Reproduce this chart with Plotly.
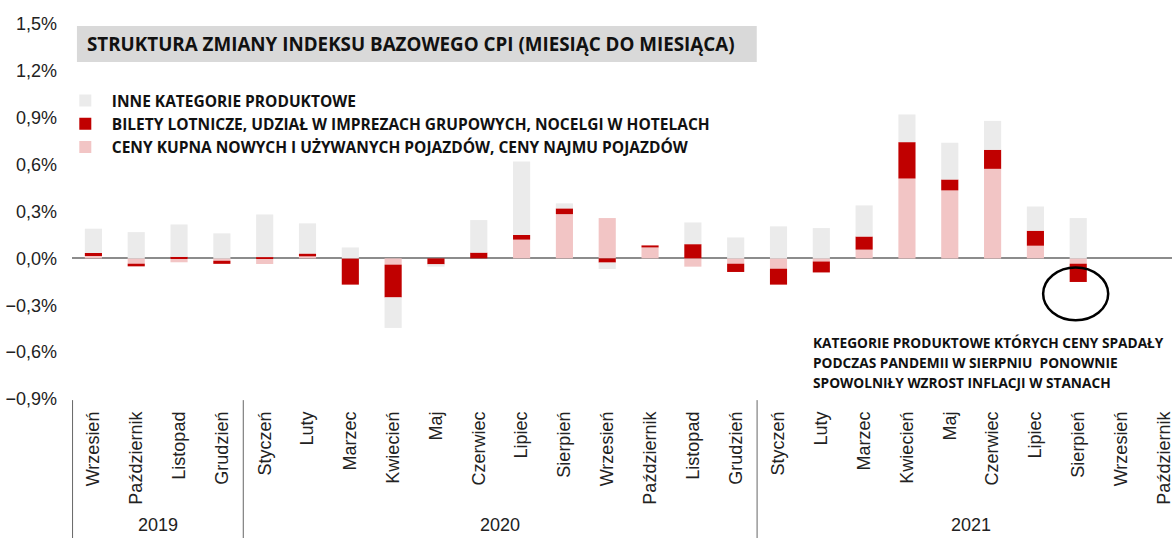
import plotly.graph_objects as go

years = ["2019", "2020", "2021"]
year_centers = [1.5, 9.5, 20.5]
year_bounds = [3.5, 15.5]
months = ["Wrzesień", "Październik", "Listopad", "Grudzień",
          "Styczeń", "Luty", "Marzec", "Kwiecień", "Maj", "Czerwiec", "Lipiec", "Sierpień",
          "Wrzesień", "Październik", "Listopad", "Grudzień",
          "Styczeń", "Luty", "Marzec", "Kwiecień", "Maj", "Czerwiec", "Lipiec", "Sierpień",
          "Wrzesień", "Październik"]
pos = list(range(len(months)))

# contributions in percentage points
vehicles = [0.015, -0.034, -0.025, -0.015, -0.036, 0.013, 0.0, -0.04, 0.0, 0.0, 0.12, 0.283,
            0.258, 0.07, -0.053, -0.034, -0.066, -0.02, 0.056, 0.511, 0.435, 0.573, 0.081, -0.034,
            None, None]
travel = [0.02, -0.017, 0.01, -0.02, 0.008, 0.018, -0.168, -0.21, -0.038, 0.037, 0.03, 0.037,
          -0.027, 0.013, 0.091, -0.053, -0.102, -0.07, 0.084, 0.233, 0.07, 0.122, 0.096, -0.117,
          None, None]
other = [0.155, 0.168, 0.207, 0.16, 0.273, 0.193, 0.07, -0.195, -0.015, 0.208, 0.47, 0.032,
         -0.041, 0.0, 0.139, 0.134, 0.205, 0.194, 0.199, 0.177, 0.235, 0.185, 0.155, 0.258,
         None, None]

names = ["CENY KUPNA NOWYCH I UŻYWANYCH POJAZDÓW, CENY NAJMU POJAZDÓW",
         "BILETY LOTNICZE, UDZIAŁ W IMPREZACH GRUPOWYCH, NOCELGI W HOTELACH",
         "INNE KATEGORIE PRODUKTOWE"]
colors = ["#f2c5c5", "#c00000", "#ebebeb"]

title_text = "STRUKTURA ZMIANY INDEKSU BAZOWEGO CPI (MIESIĄC DO MIESIĄCA)"
note_lines = ["KATEGORIE PRODUKTOWE KTÓRYCH CENY SPADAŁY",
              "PODCZAS PANDEMII W SIERPNIU  PONOWNIE",
              "SPOWOLNIŁY WZROST INFLACJI W STANACH"]

fig = go.Figure()
for vals, nm, col in zip([vehicles, travel, other], names, colors):
    fig.add_trace(go.Bar(x=pos, y=vals, name=nm, marker=dict(color=col, line=dict(width=0))))

bold = dict(family="Open Sans", size=15.5, color="#111", weight="bold")

fig.update_layout(
    width=1174, height=538,
    margin=dict(l=72, r=0, t=24, b=139),
    barmode="relative", bargap=0.6,
    paper_bgcolor="white", plot_bgcolor="white",
    separators=", ",
    showlegend=True,
    legend=dict(x=-0.012, y=0.84, xanchor="left", yanchor="top",
                traceorder="reversed", font=bold, itemwidth=43,
                bgcolor="rgba(0,0,0,0)", tracegroupgap=0),
    font=dict(family="Liberation Sans", size=18, color="#222"),
)
fig.update_yaxes(range=[-0.9, 1.5], dtick=0.3, tick0=0, tickformat=".1f", ticksuffix="%",
                 showgrid=False, zeroline=True, zerolinecolor="#8c8c8c", zerolinewidth=2,
                 showline=False, ticks="", ticklabelstandoff=14,
                 tickfont=dict(family="Liberation Sans", size=18, color="#222"))
fig.update_xaxes(range=[-0.5, 25.19], tickmode="array", tickvals=pos, ticktext=months,
                 tickangle=-90, showgrid=False, zeroline=False, showline=False, ticks="",
                 ticklabelstandoff=8, ticklabeloverflow="allow",
                 tickfont=dict(family="Liberation Sans", size=18, color="#222"))

# year group labels and dividers
for yr, xc in zip(years, year_centers):
    fig.add_annotation(xref="x", yref="paper", x=xc, y=(399 - 525) / 375, text=yr,
                       showarrow=False, xanchor="center", yanchor="middle",
                       font=dict(family="Liberation Sans", size=18, color="#222"))
fig.add_shape(type="line", xref="paper", yref="paper", x0=0.0005, x1=0.0005, y0=-0.003, y1=-0.38,
              line=dict(color="#666", width=1))
for xb in year_bounds:
    fig.add_shape(type="line", xref="x", yref="paper", x0=xb, x1=xb, y0=-0.003, y1=-0.38,
                  line=dict(color="#666", width=1))

# title box
fig.add_shape(type="rect", xref="paper", yref="paper", x0=0.0045, x1=0.6225, y0=0.899, y1=0.995,
              fillcolor="#d9d9d9", line=dict(width=0), layer="below")
fig.add_annotation(xref="paper", yref="paper", x=0.0118, y=0.946, xanchor="left", yanchor="middle",
                   text=title_text, showarrow=False,
                   font=dict(family="Open Sans", size=18.8, color="#111", weight="bold"))

# note
for i, line in enumerate(note_lines):
    fig.add_annotation(xref="paper", yref="paper", x=0.6715, y=(399 - 342 - 20 * i) / 375,
                       xanchor="left", yanchor="middle", text=line, showarrow=False,
                       font=dict(family="Open Sans", size=13.7, color="#111", weight="bold"))

# ellipse around August 2021
fig.add_shape(type="circle", xref="x", yref="y", x0=22.18, x1=23.70, y0=-0.396, y1=-0.058,
              line=dict(color="black", width=2.5))

fig.write_html("out.html")
